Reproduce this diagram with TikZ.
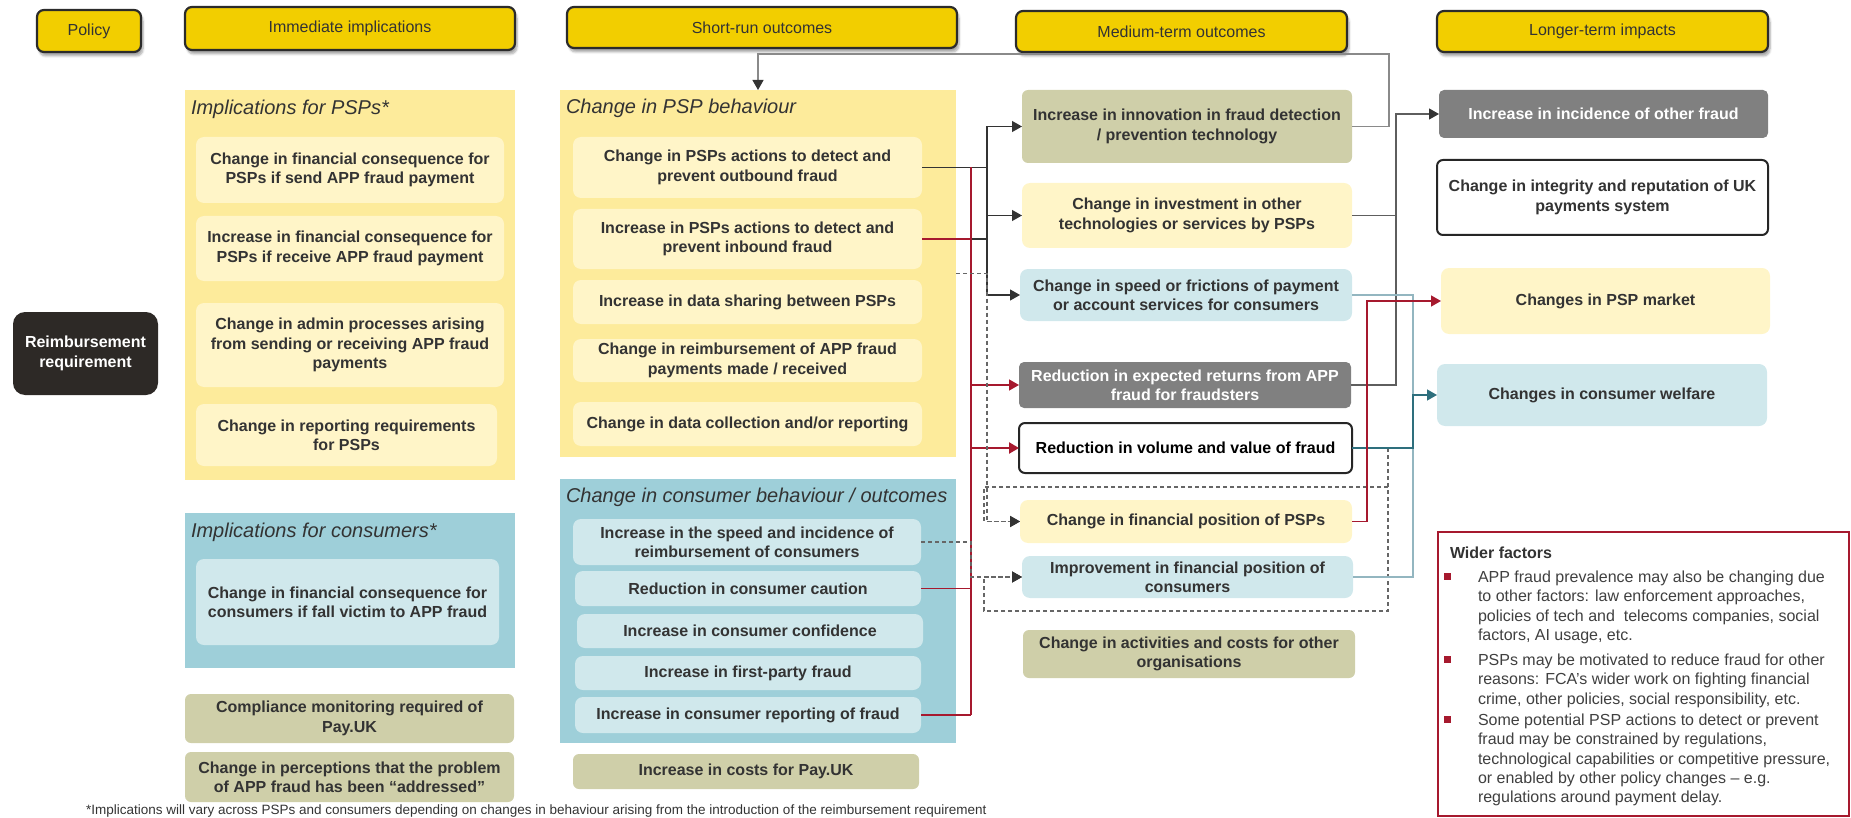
\documentclass[tikz,border=0pt]{standalone}
\usepackage{fontspec}
\setmainfont{Liberation Sans}
\usetikzlibrary{arrows.meta,shadows.blur}

\definecolor{hdr}{HTML}{F2CE00}
\definecolor{hdrline}{HTML}{2B2B2B}
\definecolor{panelY}{HTML}{FDEB9B}
\definecolor{boxY}{HTML}{FFF5C8}
\definecolor{panelB}{HTML}{9ECFD9}
\definecolor{boxB}{HTML}{D0E8EC}
\definecolor{olive}{HTML}{CFCFA9}
\definecolor{grayB}{HTML}{808080}
\definecolor{darkB}{HTML}{2D2926}
\definecolor{txt}{HTML}{333333}
\definecolor{redL}{HTML}{A6192E}
\definecolor{tealL}{HTML}{2E6F7D}
\definecolor{steelL}{HTML}{93B6C0}
\definecolor{grayL}{HTML}{8A8A8A}
\definecolor{gray2L}{HTML}{5E5E5E}
\definecolor{dashL}{HTML}{666666}
\definecolor{wtxt}{HTML}{404040}

% box placed by its corners (x1,y1)-(x2,y2)
\newcommand\bx[7]{%
  \pgfmathsetmacro\bxcx{(#3+#5)/2}%
  \pgfmathsetmacro\bxcy{(#4+#6)/2}%
  \pgfmathsetmacro\bxw{#5-#3}%
  \pgfmathsetmacro\bxh{#6-#4}%
  \node[#1, minimum width=\bxw pt, minimum height=\bxh pt] (#2) at (\bxcx,\bxcy) {#7};}

\tikzset{
  every node/.style={inner sep=0pt, outer sep=0pt},
  base/.style={align=center, text=txt, font=\fontsize{16}{19.3}\selectfont\bfseries},
  hdrbox/.style={draw=hdrline, line width=2.2pt, fill=hdr, rounded corners=7pt,
    text=txt, font=\fontsize{16}{19}\selectfont,
    blur shadow={shadow xshift=2pt, shadow yshift=-4pt, shadow blur steps=6, shadow opacity=35}},
  panelYs/.style={fill=panelY},
  panelBs/.style={fill=panelB},
  ybox/.style={base, fill=boxY, rounded corners=8pt},
  bbox/.style={base, fill=boxB, rounded corners=8pt},
  obox/.style={base, fill=olive, rounded corners=6pt},
  gbox/.style={base, fill=grayB, text=white, rounded corners=5pt},
  wbox/.style={base, draw=black!85, line width=2pt, fill=white, rounded corners=6pt},
  dbox/.style={base, fill=darkB, text=white, rounded corners=12pt},
  ptitle/.style={anchor=west, text=txt, font=\fontsize{20}{22}\selectfont\itshape},
  tip/.style={-{Triangle[length=10pt,width=11pt,color=txt]}},
  rtip/.style={-{Triangle[length=10pt,width=11pt,color=redL]}},
  ttip/.style={-{Triangle[length=10pt,width=11pt,color=tealL]}},
  dline/.style={draw=txt, line width=1.2pt},
  rline/.style={draw=redL, line width=1.3pt},
  gline/.style={draw=grayL, line width=1.2pt},
  g2line/.style={draw=gray2L, line width=1.2pt},
  sline/.style={draw=steelL, line width=1.4pt},
  tline/.style={draw=tealL, line width=1.3pt},
  dsh/.style={draw=dashL, line width=1.1pt, dash pattern=on 4pt off 3pt},
  wfbox/.style={draw=redL, line width=2pt, fill=white},
  witem/.style={anchor=north west, align=left, text=wtxt, font=\fontsize{16}{19.3}\selectfont},
}

\begin{document}
\begin{tikzpicture}[x=1pt,y=-1pt]
\useasboundingbox (0,0) rectangle (1851,818);

% column headers
\bx{hdrbox}{hPol}{37}{10}{141}{52}{Policy}
\bx{hdrbox}{hImm}{185}{7}{515}{50}{Immediate implications}
\bx{hdrbox}{hShort}{567}{7}{957}{48}{Short-run outcomes}
\bx{hdrbox}{hMed}{1016}{11}{1347}{52}{Medium-term outcomes}
\bx{hdrbox}{hLong}{1437}{11}{1768}{52}{Longer-term impacts}

% policy
\bx{dbox}{reimb}{13}{312}{158}{395}{Reimbursement\\requirement}

% immediate implications
\bx{panelYs}{impPanel}{185}{90}{515}{480}{}
\node[ptitle] (impTitle) at (191,109) {Implications for PSPs*};
\bx{ybox}{i1}{196}{137}{504}{203}{Change in financial consequence for\\PSPs if send APP fraud payment}
\bx{ybox}{i2}{196}{216}{504}{281}{Increase in financial consequence for\\PSPs if receive APP fraud payment}
\bx{ybox}{i3}{196}{303}{504}{387}{Change in admin processes arising\\from sending or receiving APP fraud\\payments}
\bx{ybox}{i4}{196}{404}{497}{466}{Change in reporting requirements\\for PSPs}
\bx{panelBs}{icPanel}{185}{513}{515}{668}{}
\node[ptitle] (icTitle) at (191,532) {Implications for consumers*};
\bx{bbox}{ic1}{196}{559}{499}{645}{Change in financial consequence for\\consumers if fall victim to APP fraud}
\bx{obox}{io1}{185}{694}{514}{743}{Compliance monitoring required of\\Pay.UK}
\bx{obox}{io2}{185}{752}{514}{802}{Change in perceptions that the problem\\of APP fraud has been “addressed”}

% short-run outcomes
\bx{panelYs}{pspPanel}{560}{90}{956}{457}{}
\node[ptitle] (pspTitle) at (566,108) {Change in PSP behaviour};
\bx{ybox}{p1}{573}{137}{922}{198}{Change in PSPs actions to detect and\\prevent outbound fraud}
\bx{ybox}{p2}{573}{209}{922}{269}{Increase in PSPs actions to detect and\\prevent inbound fraud}
\bx{ybox}{p3}{573}{280}{922}{324}{Increase in data sharing between PSPs}
\bx{ybox}{p4}{573}{339}{922}{382}{Change in reimbursement of APP fraud\\payments made / received}
\bx{ybox}{p5}{573}{402}{922}{446}{Change in data collection and/or reporting}
\bx{panelBs}{conPanel}{560}{479}{956}{743}{}
\node[ptitle] (conTitle) at (566,497) {Change in consumer behaviour / outcomes};
\bx{bbox}{cb1}{573}{519}{921}{565}{Increase in the speed and incidence of\\reimbursement of consumers}
\bx{bbox}{cb2}{575}{571}{921}{606}{Reduction in consumer caution}
\bx{bbox}{cb3}{577}{614}{923}{648}{Increase in consumer confidence}
\bx{bbox}{cb4}{575}{656}{921}{690}{Increase in first-party fraud}
\bx{bbox}{cb5}{575}{697}{921}{733}{Increase in consumer reporting of fraud}
\bx{obox}{so1}{573}{754}{919}{789}{Increase in costs for Pay.UK}

% medium-term outcomes
\bx{obox}{m1}{1022}{90}{1352}{163}{Increase in innovation in fraud detection\\/ prevention technology}
\bx{ybox}{m2}{1022}{183}{1352}{248}{Change in investment in other\\technologies or services by PSPs}
\bx{bbox}{m3}{1020}{269}{1352}{321}{Change in speed or frictions of payment\\or account services for consumers}
\bx{gbox}{m4}{1019}{362}{1351}{408}{Reduction in expected returns from APP\\fraud for fraudsters}
\bx{wbox,text=black}{m5}{1019}{423}{1352}{473}{Reduction in volume and value of fraud}
\bx{ybox}{m6}{1020}{500}{1352}{543}{Change in financial position of PSPs}
\bx{bbox}{m7}{1022}{556}{1353}{598}{Improvement in financial position of\\consumers}
\bx{obox}{m8}{1023}{630}{1355}{678}{Change in activities and costs for other\\organisations}

% longer-term impacts
\bx{gbox}{l1}{1439}{90}{1768}{138}{Increase in incidence of other fraud}
\bx{wbox}{l2}{1437}{160}{1768}{235}{Change in integrity and reputation of UK\\payments system}
\bx{ybox}{l3}{1441}{268}{1770}{334}{Changes in PSP market}
\bx{bbox}{l4}{1437}{364}{1767}{426}{Changes in consumer welfare}

% wider factors
\bx{wfbox}{wider}{1438}{532}{1849}{816}{}
\node[anchor=west, text=txt, font=\fontsize{16}{19}\selectfont\bfseries] (wfTitle) at (1450,553) {Wider factors};
\fill[redL] (1444,573) rectangle (1451,580);
\fill[redL] (1444,656) rectangle (1451,663);
\fill[redL] (1444,716) rectangle (1451,723);
\node[witem] (wf1) at (1478,571) {APP fraud prevalence may also be changing due\\to other factors: law enforcement approaches,\\policies of tech and\ \ telecoms companies, social\\factors, AI usage, etc.};
\node[witem] (wf2) at (1478,654) {PSPs may be motivated to reduce fraud for other\\reasons: FCA’s wider work on fighting financial\\crime, other policies, social responsibility, etc.};
\node[witem] (wf3) at (1478,714) {Some potential PSP actions to detect or prevent\\fraud may be constrained by regulations,\\technological capabilities or competitive pressure,\\or enabled by other policy changes – e.g.\\regulations around payment delay.};

% footnote along the lower edge
\node[anchor=base west, text=txt, font=\fontsize{13.5}{15}\selectfont] (foot) at (86,814) {*Implications will vary across PSPs and consumers depending on changes in behaviour arising from the introduction of the reimbursement requirement};

% routing coordinates
\coordinate (xA) at (987,0);
\coordinate (xR) at (971,0);
\coordinate (xL) at (758,0);
\coordinate (xM1) at (1389,0);
\coordinate (yTop) at (0,54);
\coordinate (xG) at (1396,0);
\coordinate (xS) at (1413,0);
\coordinate (xR2) at (1367,0);
\coordinate (xD) at (1388,0);
\coordinate (xDL) at (984,0);
\coordinate (yDT) at (0,487);
\coordinate (yDB) at (0,611);

% feedback from innovation to PSP behaviour
\draw[gline, tip] (m1.east) -| (xM1 |- yTop) -| (pspPanel.north -| xL);

% PSP actions to medium-term outcomes
\draw[dline] (p1.east) -- (p1.east -| xA);
\draw[rline] (p2.east) -- (p2.east -| xR);
\draw[dline] (p2.east -| xR) -- (p2.east -| xA);
\draw[dline] (m1.west -| xA) -- (m3.west -| xA);
\draw[dline, tip] (m1.west -| xA) -- (m1.west);
\draw[dline, tip] (m2.west -| xA) -- (m2.west);
\draw[dline, tip] (m3.west -| xA) -- (m3.west);

% red trunk to fraud outcomes
\draw[rline] (p1.east -| xR) -- (cb5.east -| xR);
\draw[rline] (cb2.east) -- (cb2.east -| xR);
\draw[rline] (cb5.east) -- (cb5.east -| xR);
\draw[rline, rtip] (m4.west -| xR) -- (m4.west);
\draw[rline, line width=2.4pt, rtip] (m5.west -| xR) -- (m5.west);

% dashed links to financial positions
\draw[dsh, tip] (pspPanel.east) -| (m6.west -| xA) -- (m6.west);
\draw[dsh, tip] (cb1.east) -| (m7.west -| xR) -- (m7.west);
\draw[dsh, tip] (m5.east -| xD) -- (xD |- yDB) -| (m7.west -| xDL) -- (m7.west);
\draw[dsh, tip] (xD |- yDT) -| (m6.west -| xDL) -- (m6.west);
\draw[dsh] (xD |- yDT) -- (m5.east -| xD);

% medium-term to longer-term
\draw[g2line, tip] (m2.east) -| (xG |- l1.west) -- (l1.west);
\draw[g2line] (m4.east) -| (xG |- m2.east);
\draw[sline] (m3.east) -| (xS |- m7.east) -- (m7.east);
\draw[tline, ttip] (m5.east) -| (xS |- l4.west) -- (l4.west);
\draw[rline, rtip] (m6.east) -| (xR2 |- l3.west) -- (l3.west);
\end{tikzpicture}
\end{document}
